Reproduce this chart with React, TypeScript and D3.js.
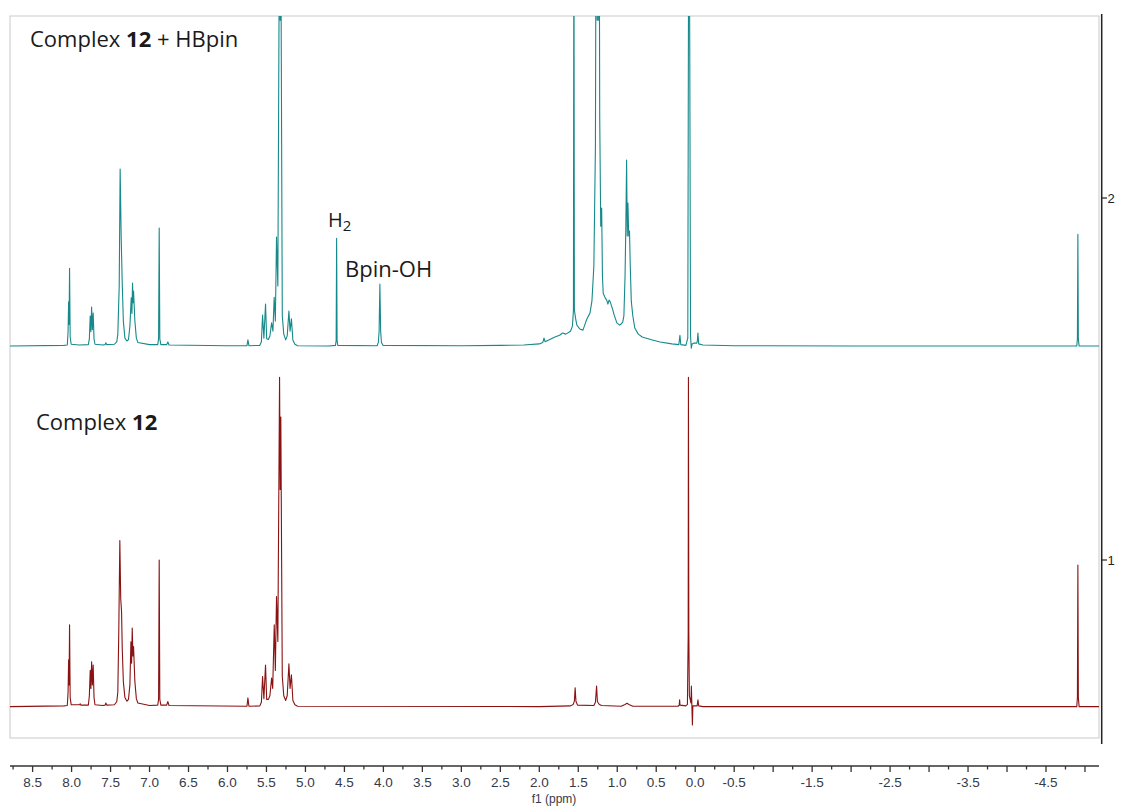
import { useEffect, useRef } from "react";
import * as d3 from "d3";

// f1 axis labels (ppm)
const ppmLabels = [8.5, 8.0, 7.5, 7.0, 6.5, 6.0, 5.5, 5.0, 4.5, 4.0, 3.5, 3.0, 2.5, 2.0, 1.5, 1.0, 0.5, 0.0, -0.5, -1.5, -2.5, -3.5, -4.5];
const stackTicks = [1, 2];

// where each spectrum sits on the stack axis
const offsetHBpin = 1.591;
const offsetComplex = 0.595;

// traces: [ppm, intensity]
const traceHBpin: [number, number][] = [
  [8.79, 0], [8.1, 0.002],
  [8.055, 0.003], [8.045, 0.04], [8.038, 0.122], [8.032, 0.06], [8.026, 0.215], [8.018, 0.025], [8.005, 0.005],
  [7.9, 0.003],
  [7.785, 0.004], [7.772, 0.02], [7.761, 0.083], [7.752, 0.04], [7.743, 0.108], [7.733, 0.045], [7.723, 0.091], [7.712, 0.02], [7.7, 0.005],
  [7.6, 0.003], [7.57, 0.004], [7.56, 0.009], [7.55, 0.004],
  [7.45, 0.005], [7.42, 0.012], [7.407, 0.033], [7.389, 0.166], [7.377, 0.489], [7.364, 0.304], [7.351, 0.18], [7.336, 0.069], [7.316, 0.022], [7.29, 0.014], [7.27, 0.018],
  [7.252, 0.055], [7.235, 0.133], [7.226, 0.09], [7.218, 0.174], [7.211, 0.12], [7.205, 0.152], [7.188, 0.069], [7.169, 0.022], [7.15, 0.01],
  [7.0, 0.004],
  [6.895, 0.004], [6.884, 0.02], [6.876, 0.326], [6.868, 0.02], [6.855, 0.004],
  [6.78, 0.004], [6.765, 0.011], [6.75, 0.003],
  [6.0, 0.001],
  [5.75, 0.001], [5.738, 0.017], [5.725, 0.001],
  [5.585, 0.002], [5.565, 0.012], [5.55, 0.086], [5.533, 0.022], [5.512, 0.116], [5.497, 0.02], [5.475, 0.018], [5.456, 0.028],
  [5.434, 0.064], [5.417, 0.041], [5.401, 0.135], [5.386, 0.069], [5.371, 0.301], [5.354, 0.166], [5.332, 1.25], [5.324, 0.9], [5.316, 1.16],
  [5.297, 0.083], [5.278, 0.033], [5.253, 0.017], [5.234, 0.028], [5.212, 0.097], [5.197, 0.041], [5.18, 0.075], [5.161, 0.017], [5.135, 0.005], [5.1, 0.001],
  [4.7, 0],
  [4.615, 0.002], [4.606, 0.015], [4.6, 0.298], [4.594, 0.015], [4.585, 0.002],
  [4.08, 0.001], [4.065, 0.01], [4.055, 0.04], [4.045, 0.171], [4.035, 0.04], [4.025, 0.01], [4.005, 0.002],
  [3.0, 0.001], [2.5, 0.002], [2.2, 0.003], [2.0, 0.006],
  [1.955, 0.01], [1.94, 0.022], [1.925, 0.012],
  [1.8, 0.025], [1.74, 0.03], [1.7, 0.036], [1.66, 0.033], [1.6, 0.041], [1.575, 0.055], [1.562, 0.1], [1.556, 1.3], [1.55, 0.1],
  [1.535, 0.077], [1.518, 0.058], [1.48, 0.047], [1.44, 0.044], [1.4, 0.069], [1.385, 0.077], [1.35, 0.091], [1.325, 0.124], [1.3, 0.221],
  [1.28, 0.552], [1.265, 1.8], [1.258, 0.9], [1.25, 2.0], [1.243, 0.9], [1.237, 1.8], [1.225, 0.635], [1.212, 0.331], [1.2, 0.381],
  [1.19, 0.193], [1.18, 0.146], [1.155, 0.133], [1.135, 0.127], [1.12, 0.116], [1.105, 0.127], [1.09, 0.122], [1.06, 0.102], [1.04, 0.086],
  [1.005, 0.064], [0.97, 0.058], [0.95, 0.061], [0.93, 0.066], [0.915, 0.083], [0.9, 0.193], [0.89, 0.331], [0.88, 0.514], [0.872, 0.304],
  [0.863, 0.395], [0.853, 0.304], [0.843, 0.318], [0.833, 0.221], [0.82, 0.124], [0.8, 0.083], [0.775, 0.05], [0.73, 0.033], [0.68, 0.025],
  [0.55, 0.017], [0.45, 0.011], [0.3, 0.006], [0.21, 0.004], [0.196, 0.03], [0.185, 0.004], [0.12, 0.002],
  [0.095, 0.022], [0.081, 1.5], [0.07, 0.83], [0.06, 0.028], [0.05, -0.006], [0.04, 0.006], [0.02, 0.008], [-0.02, 0.008],
  [-0.028, 0.015], [-0.035, 0.036], [-0.045, 0.006], [-0.1, 0.003], [-0.5, 0.001], [-2.0, 0],
  [-4.895, 0], [-4.903, 0.02], [-4.909, 0.309], [-4.915, 0.02], [-4.925, 0], [-5.18, 0],
];

const traceComplex: [number, number][] = [
  [8.79, 0], [8.1, 0.002],
  [8.055, 0.003], [8.045, 0.04], [8.038, 0.129], [8.032, 0.06], [8.026, 0.226], [8.018, 0.025], [8.005, 0.005],
  [7.9, 0.005], [7.89, 0.008], [7.88, 0.004],
  [7.785, 0.004], [7.772, 0.03], [7.761, 0.1], [7.752, 0.05], [7.743, 0.124], [7.733, 0.06], [7.723, 0.115], [7.712, 0.025], [7.7, 0.005],
  [7.6, 0.003], [7.57, 0.004], [7.56, 0.01], [7.55, 0.004],
  [7.45, 0.005], [7.42, 0.014], [7.407, 0.04], [7.395, 0.2], [7.381, 0.459], [7.37, 0.3], [7.359, 0.262], [7.35, 0.16], [7.336, 0.069], [7.316, 0.025], [7.29, 0.015], [7.27, 0.02],
  [7.252, 0.06], [7.239, 0.179], [7.23, 0.12], [7.222, 0.217], [7.213, 0.14], [7.205, 0.166], [7.188, 0.069], [7.169, 0.022], [7.15, 0.01],
  [7.0, 0.003],
  [6.895, 0.004], [6.884, 0.02], [6.876, 0.405], [6.868, 0.02], [6.855, 0.004],
  [6.78, 0.004], [6.765, 0.014], [6.75, 0.003],
  [5.75, 0.001], [5.738, 0.024], [5.725, 0.001],
  [5.585, 0.002], [5.565, 0.012], [5.55, 0.083], [5.533, 0.022], [5.512, 0.115], [5.497, 0.02], [5.475, 0.02], [5.456, 0.03],
  [5.434, 0.079], [5.42, 0.05], [5.4, 0.226], [5.386, 0.1], [5.371, 0.304], [5.354, 0.18], [5.332, 0.91], [5.324, 0.6], [5.316, 0.8],
  [5.297, 0.083], [5.278, 0.03], [5.253, 0.017], [5.234, 0.03], [5.212, 0.118], [5.197, 0.05], [5.18, 0.088], [5.161, 0.017], [5.135, 0.005], [5.1, 0.001],
  [2.0, 0], [1.6, 0.002], [1.565, 0.006], [1.55, 0.015], [1.54, 0.052], [1.53, 0.015], [1.51, 0.004],
  [1.3, 0.003], [1.28, 0.012], [1.265, 0.057], [1.255, 0.014], [1.23, 0.006], [1.2, 0.003],
  [0.95, 0.001], [0.9, 0.006], [0.875, 0.009], [0.85, 0.006], [0.8, 0.001],
  [0.22, 0.001], [0.205, 0.004], [0.2, 0.019], [0.195, 0.004], [0.12, 0.002],
  [0.1, 0.006], [0.09, 0.2], [0.087, 0.91], [0.082, 0.21], [0.075, 0.03], [0.055, 0.01], [0.049, 0.057], [0.043, 0.005], [0.036, -0.051], [0.03, 0.002],
  [-0.025, 0.002], [-0.035, 0.019], [-0.045, 0.002], [-0.1, 0],
  [-4.895, 0], [-4.903, 0.025], [-4.909, 0.391], [-4.915, 0.025], [-4.925, 0], [-5.18, 0],
];

const W = 1121;
const H = 807;
const frame = { left: 10, top: 16, right: 1099, bottom: 738 };

const App = () => {
  const ref = useRef<SVGGElement | null>(null);

  useEffect(() => {
    const svg = d3.select(ref.current);
    svg.selectAll("*").remove();

    const x = d3.scaleLinear().domain([8.79, -5.18]).range([frame.left, frame.right]);
    const y = d3.scaleLinear().domain([1, 2]).range([560, 198]);

    svg.append("defs")
      .append("clipPath")
      .attr("id", "plot-clip")
      .append("rect")
      .attr("x", frame.left)
      .attr("y", frame.top)
      .attr("width", frame.right - frame.left)
      .attr("height", frame.bottom - frame.top);

    svg.append("rect")
      .attr("x", frame.left)
      .attr("y", frame.top)
      .attr("width", frame.right - frame.left)
      .attr("height", frame.bottom - frame.top)
      .attr("fill", "white")
      .attr("stroke", "#c9c9c9")
      .attr("stroke-width", 1);

    const spectra = [
      { trace: traceHBpin, offset: offsetHBpin, color: "#16898a" },
      { trace: traceComplex, offset: offsetComplex, color: "#8a1212" },
    ];

    const g = svg.append("g").attr("clip-path", "url(#plot-clip)");
    spectra.forEach((s) => {
      const line = d3.line<[number, number]>()
        .x((d) => x(d[0]))
        .y((d) => y(s.offset + d[1]));
      g.append("path")
        .attr("d", line(s.trace))
        .attr("fill", "none")
        .attr("stroke", s.color)
        .attr("stroke-width", 1.1)
        .attr("stroke-linejoin", "round");
    });

    // bottom f1 axis
    const axisY = 766;
    const ax = svg.append("g");
    ax.append("line")
      .attr("x1", frame.left).attr("x2", frame.right)
      .attr("y1", axisY).attr("y2", axisY)
      .attr("stroke", "#333").attr("stroke-width", 1.3);

    const tickPos = d3.range(8.75, -5.01, -0.25);
    ax.selectAll("line.tick")
      .data(tickPos)
      .join("line")
      .attr("class", "tick")
      .attr("x1", (d) => x(d)).attr("x2", (d) => x(d))
      .attr("y1", axisY)
      .attr("y2", (d) => axisY + (Math.abs(Math.round(d * 2) - d * 2) < 1e-6 ? 6 : 3.5))
      .attr("stroke", "#333").attr("stroke-width", 1.3);

    ax.selectAll("text.lbl")
      .data(ppmLabels)
      .join("text")
      .attr("class", "lbl")
      .attr("x", (d) => x(d))
      .attr("y", 787)
      .attr("text-anchor", "middle")
      .attr("font-family", "'Liberation Sans', Arial, sans-serif")
      .attr("font-size", 13.5)
      .attr("fill", "#363a46")
      .text((d) => d.toFixed(1));

    ax.append("text")
      .attr("x", 554)
      .attr("y", 803)
      .attr("text-anchor", "middle")
      .attr("font-family", "'Liberation Sans', Arial, sans-serif")
      .attr("font-size", 12)
      .attr("fill", "#363a46")
      .text("f1 (ppm)");

    // right stack axis
    const ry = svg.append("g");
    ry.append("line")
      .attr("x1", 1101.7).attr("x2", 1101.7)
      .attr("y1", 14).attr("y2", 744)
      .attr("stroke", "#222").attr("stroke-width", 1.5);
    ry.selectAll("line.rt")
      .data(stackTicks)
      .join("line")
      .attr("class", "rt")
      .attr("x1", 1101.7).attr("x2", 1107)
      .attr("y1", (d) => y(d)).attr("y2", (d) => y(d))
      .attr("stroke", "#222").attr("stroke-width", 1.2);
    ry.selectAll("text.rl")
      .data(stackTicks)
      .join("text")
      .attr("class", "rl")
      .attr("x", 1107.5)
      .attr("y", (d) => y(d) + 4.5)
      .attr("font-family", "'Liberation Sans', Arial, sans-serif")
      .attr("font-size", 13)
      .attr("fill", "#222")
      .text((d) => String(d));
  }, []);

  const font = "'Open Sans', sans-serif";
  return (
    <div style={{ position: "absolute", left: 0, top: 0 }}>
      <svg width={W} height={H} style={{ display: "block", background: "white" }}>
        <g ref={ref} />
        <g fontFamily={font} fill="#1a1a1a">
          <text x={30} y={47} fontSize={22}>
            {"Complex "}<tspan fontWeight="bold">12</tspan>{" + HBpin"}
          </text>
          <text x={328} y={227} fontSize={20}>
            H<tspan fontSize={15} dy={3.5}>2</tspan>
          </text>
          <text x={345} y={277} fontSize={22}>Bpin-OH</text>
          <text x={36} y={430} fontSize={22}>
            {"Complex "}<tspan fontWeight="bold">12</tspan>
          </text>
        </g>
      </svg>
    </div>
  );
};

export default App;
